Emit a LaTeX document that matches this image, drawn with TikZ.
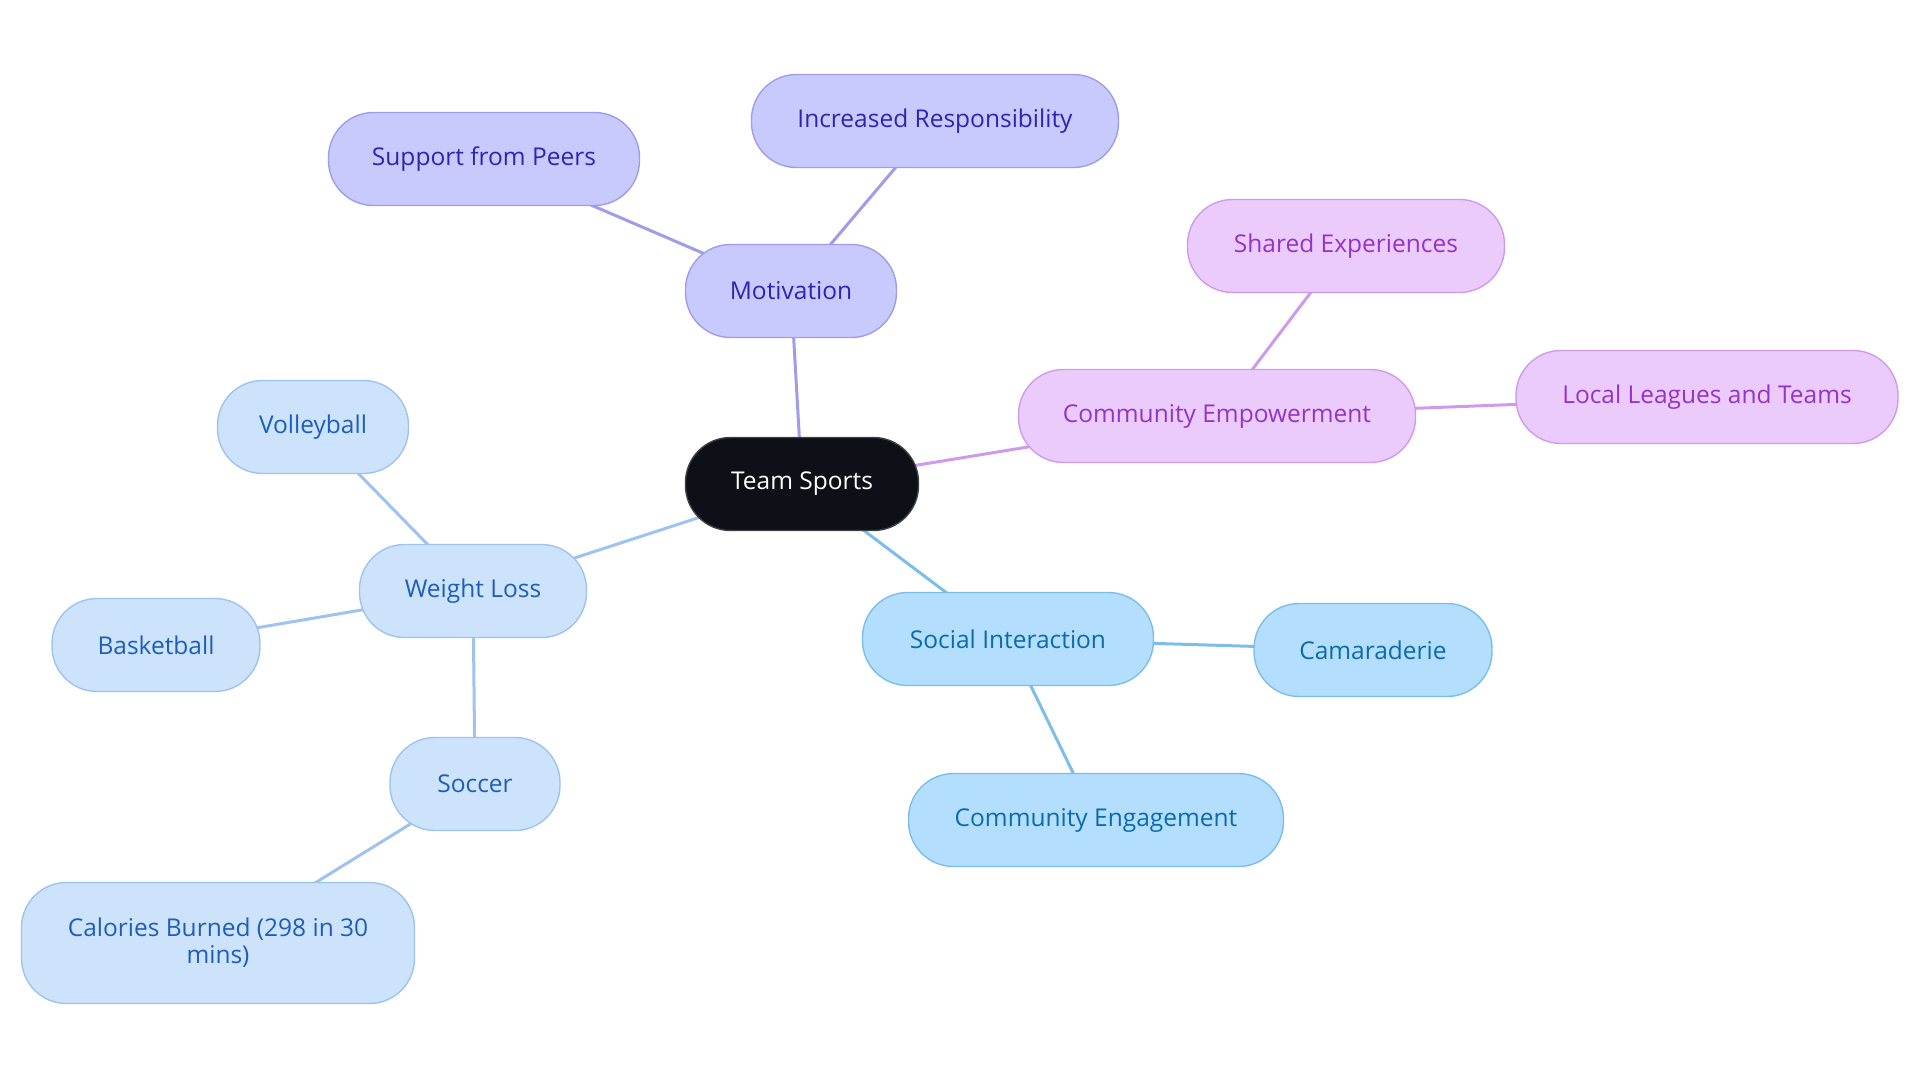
\documentclass[tikz,border=0pt]{standalone}
\usepackage{fontspec}
\setmainfont{Open Sans}
\usepackage{tikz}
\usetikzlibrary{positioning,backgrounds}
\definecolor{rootfill}{HTML}{0D1117}
\definecolor{lavfill}{HTML}{C8CAFD}
\definecolor{lavline}{HTML}{9F9CEB}
\definecolor{lavtext}{HTML}{2E25B2}
\definecolor{pinkfill}{HTML}{EBCBFC}
\definecolor{pinkline}{HTML}{CE9BEC}
\definecolor{pinktext}{HTML}{9333C7}
\definecolor{palefill}{HTML}{CDE3FC}
\definecolor{paleline}{HTML}{9DC3EE}
\definecolor{paletext}{HTML}{1E5EB9}
\definecolor{skyfill}{HTML}{B3DEFD}
\definecolor{skyline}{HTML}{7CBEEA}
\definecolor{skytext}{HTML}{0C6BAA}
\tikzset{x=1pt,y=-1pt,
    topic/.style={rounded corners=45pt,draw,line width=1.4pt,minimum height=93pt,
        align=center,inner sep=0pt,font=\fontsize{24.5}{27}\selectfont},
    root/.style={topic,fill=rootfill,draw=rootfill!80!white,text=white},
    motive/.style={topic,fill=lavfill,draw=lavline,text=lavtext},
    commun/.style={topic,fill=pinkfill,draw=pinkline,text=pinktext},
    weight/.style={topic,fill=palefill,draw=paleline,text=paletext},
    social/.style={topic,fill=skyfill,draw=skyline,text=skytext},
    motedge/.style={draw=lavline,line width=3pt},
    comedge/.style={draw=pinkline,line width=3pt},
    wgtedge/.style={draw=paleline,line width=3pt},
    socedge/.style={draw=skyline,line width=3pt}}

\begin{document}
\begin{tikzpicture}
\useasboundingbox (0,0) rectangle (1920,1083);

\node[root,minimum width=233pt]    (team)  at (802,484)  {Team Sports};

\node[motive,minimum width=211pt]  (mot)   at (791,291)  {Motivation};
\node[motive,minimum width=311pt]  (peers) at (484,159)  {Support from Peers};
\node[motive,minimum width=367pt]  (resp)  at (935,121)  {Increased Responsibility};

\node[commun,minimum width=397pt]  (emp)   at (1217,416) {Community Empowerment};
\node[commun,minimum width=317pt]  (share) at (1346,246) {Shared Experiences};
\node[commun,minimum width=382pt]  (local) at (1707,397) {Local Leagues and Teams};

\node[weight,minimum width=227pt]  (loss)  at (473,591)  {Weight Loss};
\node[weight,minimum width=191pt]  (volley) at (313,427) {Volleyball};
\node[weight,minimum width=208pt]  (basket) at (156,645) {Basketball};
\node[weight,minimum width=170pt]  (soccer) at (475,784) {Soccer};
\node[weight,minimum width=393pt,minimum height=121pt] (cal) at (218,943)
    {Calories Burned (298 in 30\\mins)};

\node[social,minimum width=291pt]  (inter) at (1008,639) {Social Interaction};
\node[social,minimum width=238pt]  (cama)  at (1373,650) {Camaraderie};
\node[social,minimum width=375pt]  (engage) at (1096,820) {Community Engagement};

% connectors run centre to centre, hidden under the boxes
\begin{scope}[on background layer]
\path
    (team.center)   edge[motedge] (mot.center)
    (mot.center)    edge[motedge] (peers.center)
    (mot.center)    edge[motedge] (resp.center)
    (team.center)   edge[comedge] (emp.center)
    (emp.center)    edge[comedge] (share.center)
    (emp.center)    edge[comedge] (local.center)
    (team.center)   edge[wgtedge] (loss.center)
    (loss.center)   edge[wgtedge] (volley.center)
    (loss.center)   edge[wgtedge] (basket.center)
    (loss.center)   edge[wgtedge] (soccer.center)
    (soccer.center) edge[wgtedge] (cal.center)
    (team.center)   edge[socedge] (inter.center)
    (inter.center)  edge[socedge] (cama.center)
    (inter.center)  edge[socedge] (engage.center);
\end{scope}
\end{tikzpicture}
\end{document}
